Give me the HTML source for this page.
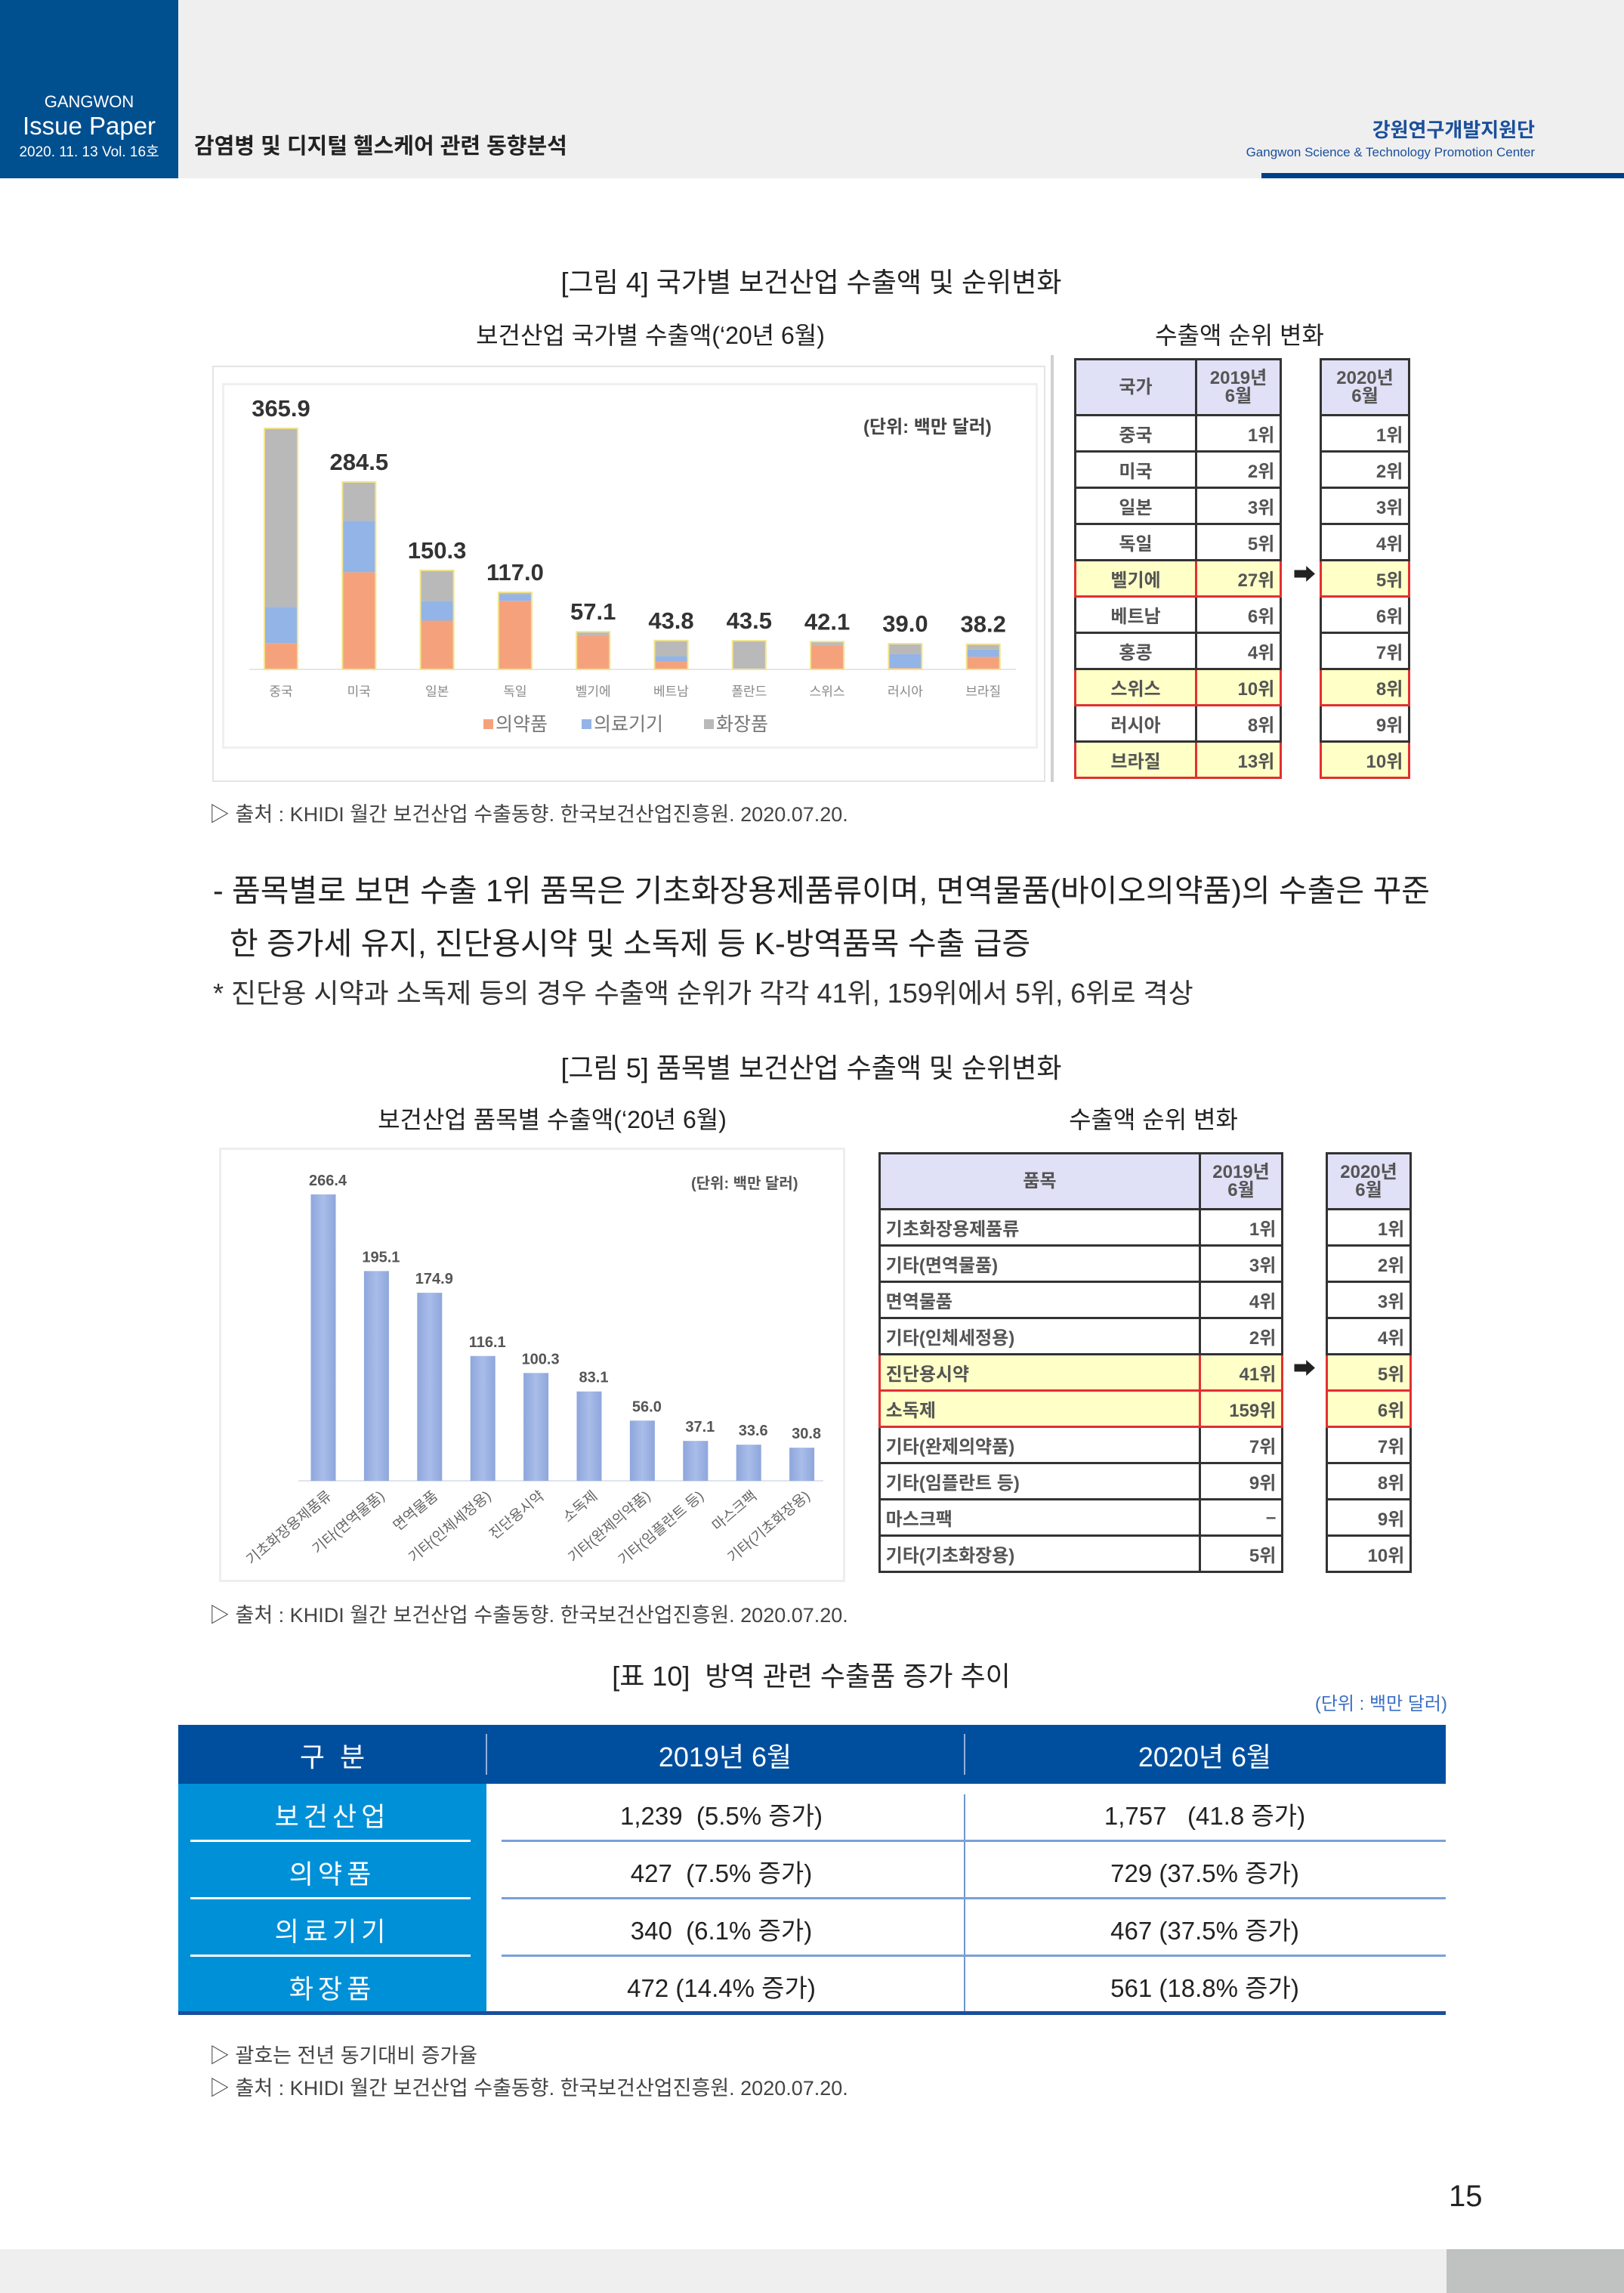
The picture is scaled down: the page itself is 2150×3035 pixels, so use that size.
<!DOCTYPE html>
<html><head><meta charset="utf-8">
<style>
*{margin:0;padding:0;box-sizing:border-box}
body{width:2150px;height:3035px;position:relative;background:#fff;font-family:"Liberation Sans","Noto Sans CJK KR",sans-serif;color:#222;overflow:hidden}
.a{position:absolute;white-space:nowrap}
.c{transform:translateX(-50%)}
table{border-collapse:collapse}
.rt td{border:3px solid #333;height:48px;font-size:24px;color:#555;font-weight:bold}
.rt .h td{background:#e0e0f6;height:74px;text-align:center;line-height:24px}
.rt .y td{background:#ffffc8}
</style></head><body>
<!-- header -->
<div class="a" style="left:0;top:0;width:2150px;height:236px;background:#efefef"></div>
<div class="a" style="left:0;top:0;width:236px;height:236px;background:#004f8f"></div>
<div class="a c" style="left:118px;top:122px;color:#fff;font-size:22px">GANGWON</div>
<div class="a c" style="left:118px;top:148px;color:#fff;font-size:33px">Issue Paper</div>
<div class="a c" style="left:118px;top:186px;color:#fff;font-size:19px">2020. 11. 13 Vol. 16호</div>
<div class="a" style="left:257px;top:170px;font-size:29px;font-weight:bold;color:#222">감염병 및 디지털 헬스케어 관련 동향분석</div>
<div class="a" style="right:118px;top:152px;font-size:26px;font-weight:bold;color:#1a4f9c">강원연구개발지원단</div>
<div class="a" style="right:118px;top:192px;font-size:17px;color:#1a4f9c">Gangwon Science &amp; Technology Promotion Center</div>
<div class="a" style="left:1670px;top:229px;width:480px;height:7px;background:#003e8a"></div>

<!-- figure 4 -->
<div class="a c" style="left:1074px;top:345px;font-size:36px">[그림 4] 국가별 보건산업 수출액 및 순위변화</div>
<div class="a c" style="left:861px;top:419px;font-size:32px">보건산업 국가별 수출액(‘20년 6월)</div>
<div class="a c" style="left:1641px;top:419px;font-size:32px">수출액 순위 변화</div>
<div class="a" style="left:281px;top:484px;width:1103px;height:551px;border:2px solid #e4e4e4"></div>
<div class="a" style="left:294px;top:507px;width:1080px;height:484px;border:3px solid #f0f0f0"></div>
<div class="a" style="left:1391px;top:470px;width:4px;height:565px;background:#d0d0d0"></div>
<div class="a" style="left:1143px;top:545px;font-size:24px;font-weight:bold;color:#444">(단위: 백만 달러)</div>

<table class="a rt" style="left:1422px;top:474px;width:275px">
<tr class="h"><td style="width:160px">국가</td><td>2019년<br>6월</td></tr>
<tr><td align="center">중국</td><td align="right">1위&nbsp;</td></tr>
<tr><td align="center">미국</td><td align="right">2위&nbsp;</td></tr>
<tr><td align="center">일본</td><td align="right">3위&nbsp;</td></tr>
<tr><td align="center">독일</td><td align="right">5위&nbsp;</td></tr>
<tr class="y"><td align="center" style="border-color:#e03030">벨기에</td><td align="right" style="border-color:#e03030">27위&nbsp;</td></tr>
<tr><td align="center">베트남</td><td align="right">6위&nbsp;</td></tr>
<tr><td align="center">홍콩</td><td align="right">4위&nbsp;</td></tr>
<tr class="y"><td align="center" style="border-color:#e03030">스위스</td><td align="right" style="border-color:#e03030">10위&nbsp;</td></tr>
<tr><td align="center">러시아</td><td align="right">8위&nbsp;</td></tr>
<tr class="y"><td align="center" style="border-color:#e03030">브라질</td><td align="right" style="border-color:#e03030">13위&nbsp;</td></tr>
</table>
<div class="a" style="left:1712px;top:736px;font-size:30px;font-weight:bold">➡</div>
<table class="a rt" style="left:1747px;top:474px;width:120px">
<tr class="h"><td>2020년<br>6월</td></tr>
<tr><td align="right">1위&nbsp;</td></tr><tr><td align="right">2위&nbsp;</td></tr><tr><td align="right">3위&nbsp;</td></tr><tr><td align="right">4위&nbsp;</td></tr>
<tr class="y"><td align="right" style="border-color:#e03030">5위&nbsp;</td></tr>
<tr><td align="right">6위&nbsp;</td></tr><tr><td align="right">7위&nbsp;</td></tr>
<tr class="y"><td align="right" style="border-color:#e03030">8위&nbsp;</td></tr>
<tr><td align="right">9위&nbsp;</td></tr>
<tr class="y"><td align="right" style="border-color:#e03030">10위&nbsp;</td></tr>
</table>
<div class="a" style="left:277px;top:1056px;font-size:27px;color:#444">▷ 출처 : KHIDI 월간 보건산업 수출동향. 한국보건산업진흥원. 2020.07.20.</div>

<!-- paragraph -->
<div class="a" style="left:282px;top:1145px;font-size:41px;color:#222">- 품목별로 보면 수출 1위 품목은 기초화장용제품류이며, 면역물품(바이오의약품)의 수출은 꾸준</div>
<div class="a" style="left:304px;top:1215px;font-size:41px;color:#222">한 증가세 유지, 진단용시약 및 소독제 등 K-방역품목 수출 급증</div>
<div class="a" style="left:282px;top:1286px;font-size:36px;color:#333">* 진단용 시약과 소독제 등의 경우 수출액 순위가 각각 41위, 159위에서 5위, 6위로 격상</div>

<!-- figure 5 -->
<div class="a c" style="left:1074px;top:1385px;font-size:36px">[그림 5] 품목별 보건산업 수출액 및 순위변화</div>
<div class="a c" style="left:731px;top:1457px;font-size:32px">보건산업 품목별 수출액(‘20년 6월)</div>
<div class="a c" style="left:1527px;top:1457px;font-size:32px">수출액 순위 변화</div>
<div class="a" style="left:290px;top:1519px;width:829px;height:575px;border:3px solid #eee"></div>
<div class="a" style="left:915px;top:1550px;font-size:20px;font-weight:bold;color:#555">(단위: 백만 달러)</div>

<table class="a rt" style="left:1163px;top:1525px;width:536px">
<tr class="h"><td style="width:424px">품목</td><td>2019년<br>6월</td></tr>
<tr><td>&nbsp;기초화장용제품류</td><td align="right">1위&nbsp;</td></tr>
<tr><td>&nbsp;기타(면역물품)</td><td align="right">3위&nbsp;</td></tr>
<tr><td>&nbsp;면역물품</td><td align="right">4위&nbsp;</td></tr>
<tr><td>&nbsp;기타(인체세정용)</td><td align="right">2위&nbsp;</td></tr>
<tr class="y"><td style="border-color:#e03030">&nbsp;진단용시약</td><td align="right" style="border-color:#e03030">41위&nbsp;</td></tr>
<tr class="y"><td style="border-color:#e03030">&nbsp;소독제</td><td align="right" style="border-color:#e03030">159위&nbsp;</td></tr>
<tr><td>&nbsp;기타(완제의약품)</td><td align="right">7위&nbsp;</td></tr>
<tr><td>&nbsp;기타(임플란트 등)</td><td align="right">9위&nbsp;</td></tr>
<tr><td>&nbsp;마스크팩</td><td align="right">–&nbsp;</td></tr>
<tr><td>&nbsp;기타(기초화장용)</td><td align="right">5위&nbsp;</td></tr>
</table>
<div class="a" style="left:1712px;top:1787px;font-size:30px;font-weight:bold">➡</div>
<table class="a rt" style="left:1755px;top:1525px;width:114px">
<tr class="h"><td>2020년<br>6월</td></tr>
<tr><td align="right">1위&nbsp;</td></tr><tr><td align="right">2위&nbsp;</td></tr><tr><td align="right">3위&nbsp;</td></tr><tr><td align="right">4위&nbsp;</td></tr>
<tr class="y"><td align="right" style="border-color:#e03030">5위&nbsp;</td></tr>
<tr class="y"><td align="right" style="border-color:#e03030">6위&nbsp;</td></tr>
<tr><td align="right">7위&nbsp;</td></tr><tr><td align="right">8위&nbsp;</td></tr><tr><td align="right">9위&nbsp;</td></tr><tr><td align="right">10위&nbsp;</td></tr>
</table>
<div class="a" style="left:277px;top:2116px;font-size:27px;color:#444">▷ 출처 : KHIDI 월간 보건산업 수출동향. 한국보건산업진흥원. 2020.07.20.</div>

<!-- table 10 -->
<div class="a c" style="left:1074px;top:2190px;font-size:36px">[표 10]&nbsp; 방역 관련 수출품 증가 추이</div>
<div class="a" style="right:234px;top:2235px;font-size:24px;color:#3a6fc4">(단위 : 백만 달러)</div>
<div class="a" style="left:236px;top:2283px;width:1678px;height:78px;background:#004f9f"></div>
<div class="a" style="left:643px;top:2295px;width:2px;height:54px;background:#8fb0dd"></div>
<div class="a" style="left:1276px;top:2295px;width:2px;height:54px;background:#8fb0dd"></div>
<div class="a c" style="left:440px;top:2297px;font-size:36px;color:#fff">구&nbsp; 분</div>
<div class="a c" style="left:960px;top:2297px;font-size:36px;color:#fff">2019년 6월</div>
<div class="a c" style="left:1595px;top:2297px;font-size:36px;color:#fff">2020년 6월</div>
<div class="a" style="left:236px;top:2361px;width:408px;height:304px;background:#0090d8"></div>
<div class="a" style="left:1276px;top:2375px;width:2px;height:290px;background:#6f95d0"></div>
<div class="a" style="left:236px;top:2662px;width:1678px;height:5px;background:#1a4f9c"></div>
<div id="t10"></div>
<div class="a" style="left:277px;top:2699px;font-size:27px;color:#444">▷ 괄호는 전년 동기대비 증가율</div>
<div class="a" style="left:277px;top:2742px;font-size:27px;color:#444">▷ 출처 : KHIDI 월간 보건산업 수출동향. 한국보건산업진흥원. 2020.07.20.</div>

<div class="a" style="left:1918px;top:2885px;font-size:40px;color:#222">15</div>
<div class="a" style="left:0;top:2977px;width:2150px;height:58px;background:#efefef"></div>
<div class="a" style="left:1915px;top:2977px;width:235px;height:58px;background:#c0c1c1"></div>

<svg class="a" id="charts" style="left:0;top:0" width="2150" height="3035" xmlns="http://www.w3.org/2000/svg"></svg>

<script>
// Figure 4 data
const countries=["중국","미국","일본","독일","벨기에","베트남","폴란드","스위스","러시아","브라질"];
const totals=[365.9,284.5,150.3,117.0,57.1,43.8,43.5,42.1,39.0,38.2];
const pharma=[40,147.5,74,104,51,12,0.5,36,2,19];
const devices=[55,78,30,10,0.5,8,1,1,21,11];
const cosmetics=[270.9,59,46.3,3,5.6,23.8,42,5.1,16,8.2];
// Figure 5 data
const items=["기초화장용제품류","기타(면역물품)","면역물품","기타(인체세정용)","진단용시약","소독제","기타(완제의약품)","기타(임플란트 등)","마스크팩","기타(기초화장용)"];
const itemValues=[266.4,195.1,174.9,116.1,100.3,83.1,56.0,37.1,33.6,30.8];
// Table 10 data
const t10Cats=["보건산업","의약품","의료기기","화장품"];
const t10y2019=["1,239  (5.5% 증가)","427  (7.5% 증가)","340  (6.1% 증가)","472 (14.4% 증가)"];
const t10y2020=["1,757   (41.8 증가)","729 (37.5% 증가)","467 (37.5% 증가)","561 (18.8% 증가)"];

const NS="http://www.w3.org/2000/svg";
const svg=document.getElementById('charts');
function mk(tag,attrs,parent){const e=document.createElementNS(NS,tag);for(const k in attrs)e.setAttribute(k,attrs[k]);(parent||svg).appendChild(e);return e;}

// chart 1 axes
const x1=i=>372+i*103.3, base1=886, y1=v=>base1-v*0.872, bw1=44;
mk('line',{x1:330,x2:1345,y1:base1,y2:base1,stroke:'#e6e6e6','stroke-width':2});
const colors=['#f5a27c','#93b4e6','#b9b9b9'];
countries.forEach((c,i)=>{
  let acc=0;
  [pharma[i],devices[i],cosmetics[i]].forEach((v,k)=>{
    const r=mk('rect',{x:x1(i)-bw1/2,y:y1(acc+v),width:bw1,height:v*0.872,fill:colors[k]});
    
    
    acc+=v;
  });
  const o=mk('rect',{x:x1(i)-bw1/2,y:y1(totals[i]),width:bw1,height:totals[i]*0.872,fill:'none',stroke:'#f2e48a','stroke-width':2});
  
  
  const t=mk('text',{x:x1(i),y:y1(totals[i])-16,'text-anchor':'middle','font-size':31,'font-weight':'bold',fill:'#333'});
  t.textContent=totals[i].toFixed(1);
  
  
  const l=mk('text',{x:x1(i),y:921,'text-anchor':'middle','font-size':17,fill:'#888'});
  l.textContent=c;
  
  
});
["의약품","의료기기","화장품"].forEach((n,k)=>{
  const lx=[640,770,932][k];
  const s=mk('rect',{x:lx,y:952,width:13,height:13,fill:colors[k]});
  
  
  const t=mk('text',{x:lx+16,y:967,'font-size':25,fill:'#777'});
  t.textContent=n;
  
  
});

// chart 2
const x2=i=>428+i*70.4, base2=1960, y2=v=>base2-v*1.423, bw2=33;
mk('line',{x1:395,x2:1090,y1:base2,y2:base2,stroke:'#dde3f0','stroke-width':2});
const g=mk('defs',{});
const lg=mk('linearGradient',{id:'bg2',x1:0,x2:1,y1:0,y2:0},g);
mk('stop',{offset:'0','stop-color':'#8ea6dc'},lg);mk('stop',{offset:'0.5','stop-color':'#a9bde9'},lg);mk('stop',{offset:'1','stop-color':'#8ea6dc'},lg);
items.forEach((c,i)=>{
  const r=mk('rect',{x:x2(i)-bw2/2,y:y2(itemValues[i]),width:bw2,height:itemValues[i]*1.423,fill:'url(#bg2)'});
  
  
  const t=mk('text',{x:x2(i)+6,y:y2(itemValues[i])-12,'text-anchor':'middle','font-size':20,'font-weight':'bold',fill:'#555'});
  t.textContent=itemValues[i].toFixed(1);
  
  
  const l=mk('text',{x:x2(i)+12,y:1982,'text-anchor':'end','font-size':19,fill:'#666',transform:'rotate(-40 '+(x2(i)+12)+' 1982)'});
  l.textContent=c;
  
  
});

// table 10 body
const host=document.getElementById('t10');
t10Cats.forEach((c,i)=>{
  const top=2361+i*76;
  const a=document.createElement('div');a.className='a c';a.style.cssText='left:440px;top:'+(top+16)+'px;font-size:35px;color:#fff;letter-spacing:6px';a.textContent=c;
  
  
  host.appendChild(a);
  const b=document.createElement('div');b.className='a c';b.style.cssText='left:955px;top:'+(top+16)+'px;font-size:33px;color:#222;white-space:pre';b.textContent=t10y2019[i];
  
  
  host.appendChild(b);
  const d=document.createElement('div');d.className='a c';d.style.cssText='left:1595px;top:'+(top+16)+'px;font-size:33px;color:#222;white-space:pre';d.textContent=t10y2020[i];
  
  
  host.appendChild(d);
  if(i<3){
    const s=document.createElement('div');s.className='a';s.style.cssText='left:252px;top:'+(top+74)+'px;width:371px;height:3px;background:#fff';
    
    
    host.appendChild(s);
    const s2=document.createElement('div');s2.className='a';s2.style.cssText='left:664px;top:'+(top+74)+'px;width:1250px;height:3px;background:#7ba0d6';
    
    
    host.appendChild(s2);
  }
});
</script>
</body></html>
